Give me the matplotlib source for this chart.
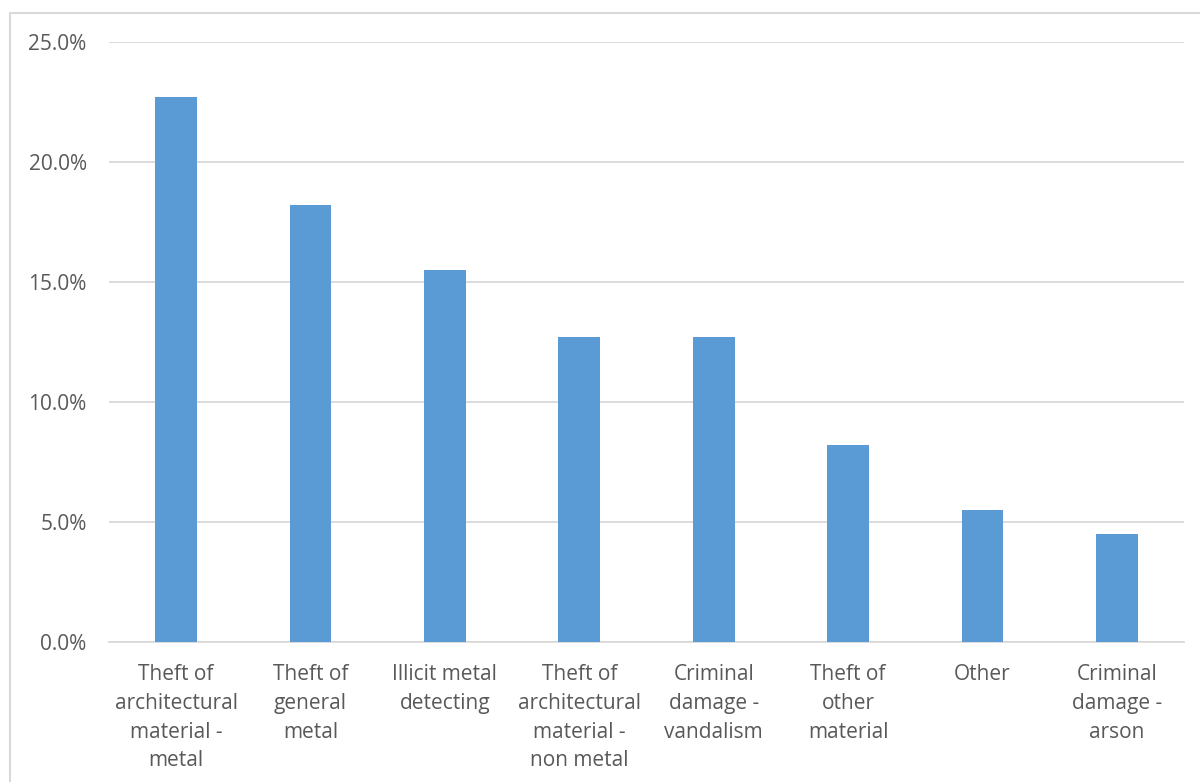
import matplotlib.pyplot as plt
from matplotlib.patches import Rectangle
from matplotlib.ticker import PercentFormatter

categories = [
    "Theft of\narchitectural\nmaterial -\nmetal",
    "Theft of\ngeneral\nmetal",
    "Illicit metal\ndetecting",
    "Theft of\narchitectural\nmaterial -\nnon metal",
    "Criminal\ndamage -\nvandalism",
    "Theft of\nother\nmaterial",
    "Other",
    "Criminal\ndamage -\narson",
]
values = [22.7, 18.2, 15.5, 12.7, 12.7, 8.2, 5.5, 4.5]
yticks = [0, 5, 10, 15, 20, 25]

plt.rcParams['font.family'] = ['Open Sans', 'DejaVu Sans']
text_color = '#595959'
grid_color = '#D9D9D9'

fig = plt.figure(figsize=(12, 7.82), dpi=100)
ax = fig.add_axes([0.0908, 0.179, 0.8959, 0.767])

# outer chart border (right/bottom run off the image)
fig.patches.append(Rectangle((10 / 1200, -0.05), 1.1, (782 - 13) / 782 + 0.05,
                             transform=fig.transFigure, fill=False,
                             edgecolor=grid_color, linewidth=1.5))

x = list(range(len(categories)))
ax.bar(x, values, width=0.31, color='#5B9BD5', zorder=3)

ax.set_xlim(-0.5, len(categories) - 0.5)
ax.set_ylim(0, 25)
ax.set_yticks(yticks)
ax.yaxis.set_major_formatter(PercentFormatter(decimals=1))
ax.set_xticks(x)
ax.set_xticklabels(categories, linespacing=1.48)

ax.grid(axis='y', color=grid_color, linewidth=1.3, zorder=0)
for s in ['top', 'right', 'left']:
    ax.spines[s].set_visible(False)
ax.spines['bottom'].set_color(grid_color)
ax.spines['bottom'].set_linewidth(1.3)
ax.tick_params(axis='both', length=0, labelsize=15, colors=text_color)
ax.tick_params(axis='x', pad=16)
ax.tick_params(axis='y', pad=16)

plt.savefig('out.png', dpi=100)
